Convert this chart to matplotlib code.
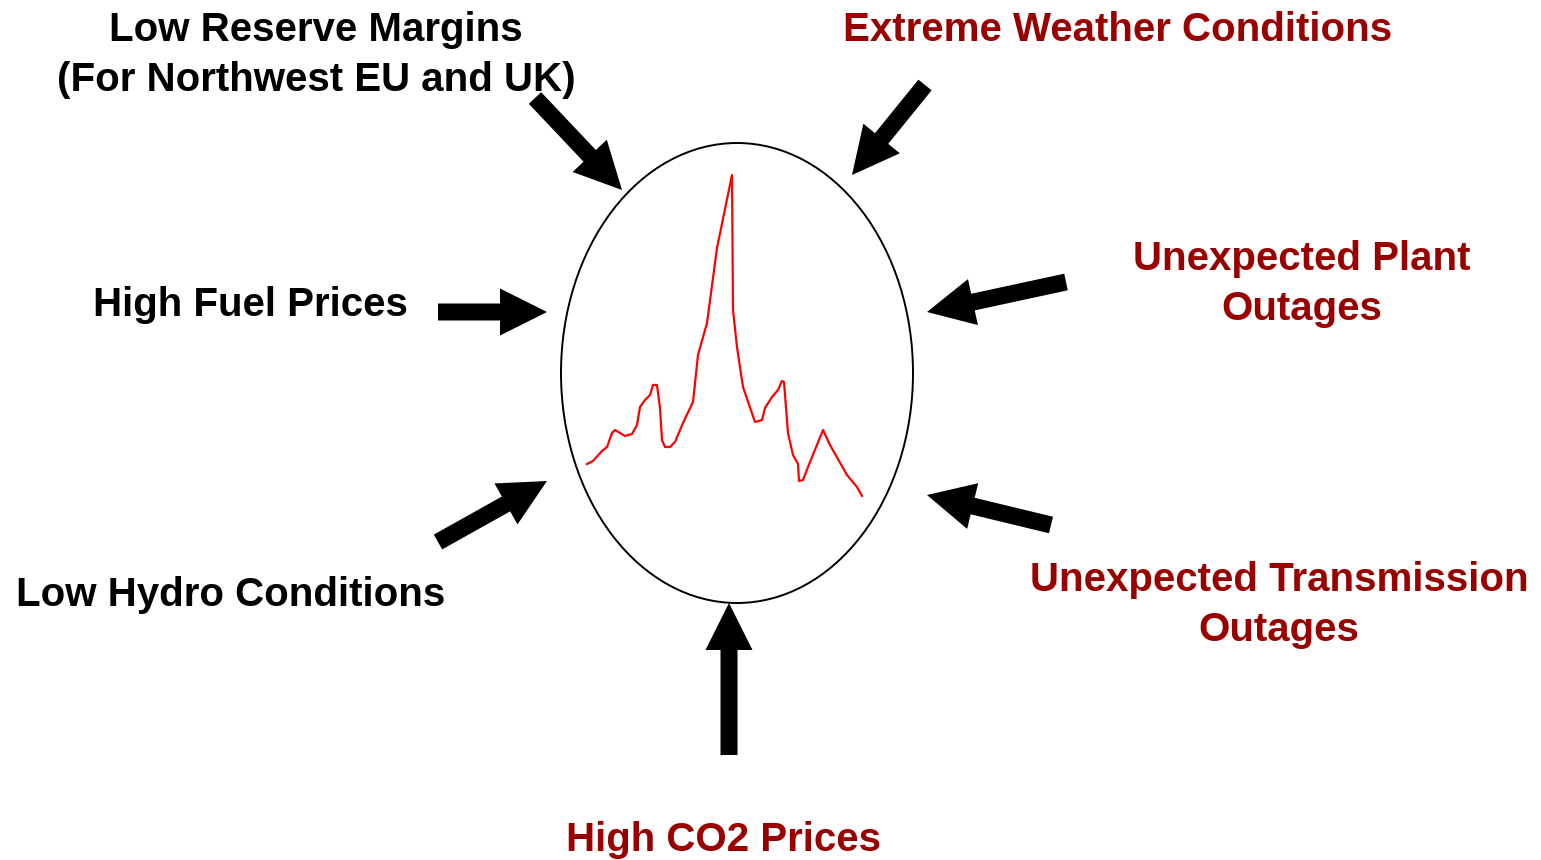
import matplotlib.pyplot as plt
from matplotlib.patches import Ellipse, FancyArrow

plt.rcParams['font.family'] = ['Liberation Sans', 'DejaVu Sans']

BLACK = '#000000'
DARK_RED = '#990000'

# labels: text, centre x, centre y, colour
labels = [
    'Low Reserve Margins\n(For Northwest EU and UK)',
    'Extreme Weather Conditions',
    'High Fuel Prices',
    'Unexpected Plant\nOutages',
    'Low Hydro Conditions',
    'Unexpected Transmission\nOutages',
    'High CO2 Prices',
]
label_x = [316, 1118, 250, 1302, 231, 1279, 724]
label_y = [55, 30, 305, 284, 595, 605, 840]
label_colors = [BLACK, DARK_RED, BLACK, DARK_RED, BLACK, DARK_RED, DARK_RED]

# arrows: tail -> tip
arrow_tail_x = [535, 925, 438, 438, 729, 1066, 1051]
arrow_tail_y = [98, 85, 312, 542, 755, 282, 525]
arrow_tip_x = [622, 852, 547, 547, 729, 927, 927]
arrow_tip_y = [190, 175, 312, 481, 603, 312, 495]

# price spike trace inside the ellipse
spike_x = [587, 593, 602, 607, 612, 615, 620, 625, 632, 637, 640, 645, 650, 653,
           657, 660, 662, 665, 670, 675, 683, 693, 698, 707, 717, 732, 733, 737,
           743, 755, 762, 765, 772, 778, 782, 784, 788, 793, 798, 799, 803, 808,
           823, 830, 847, 857, 862]
spike_y = [464, 461, 451, 447, 433, 430, 433, 436, 434, 425, 407, 400, 395, 385,
           385, 408, 440, 447, 447, 442, 423, 402, 355, 323, 248, 175, 310, 347,
           387, 422, 420, 408, 397, 390, 381, 382, 433, 455, 464, 481, 480, 467,
           430, 445, 475, 487, 496]

fig = plt.figure(figsize=(15.41, 8.6), dpi=100)
ax = fig.add_axes([0, 0, 1, 1])
ax.set_xlim(0, 1541)
ax.set_ylim(860, 0)
ax.axis('off')

ax.add_patch(Ellipse((737, 373), 352, 460, fill=False, edgecolor='black', lw=1.4))
ax.plot(spike_x, spike_y, color='red', lw=1.6)

for tx, ty, hx, hy in zip(arrow_tail_x, arrow_tail_y, arrow_tip_x, arrow_tip_y):
    ax.add_patch(FancyArrow(tx, ty, hx - tx, hy - ty, width=17, head_width=47,
                            head_length=47, length_includes_head=True,
                            color='black', lw=0))

for text, x, y, c in zip(labels, label_x, label_y, label_colors):
    ax.text(x, y, text, ha='center', va='center', fontsize=29, fontweight='bold',
            color=c, linespacing=1.38)

fig.savefig('out.png', dpi=100)
